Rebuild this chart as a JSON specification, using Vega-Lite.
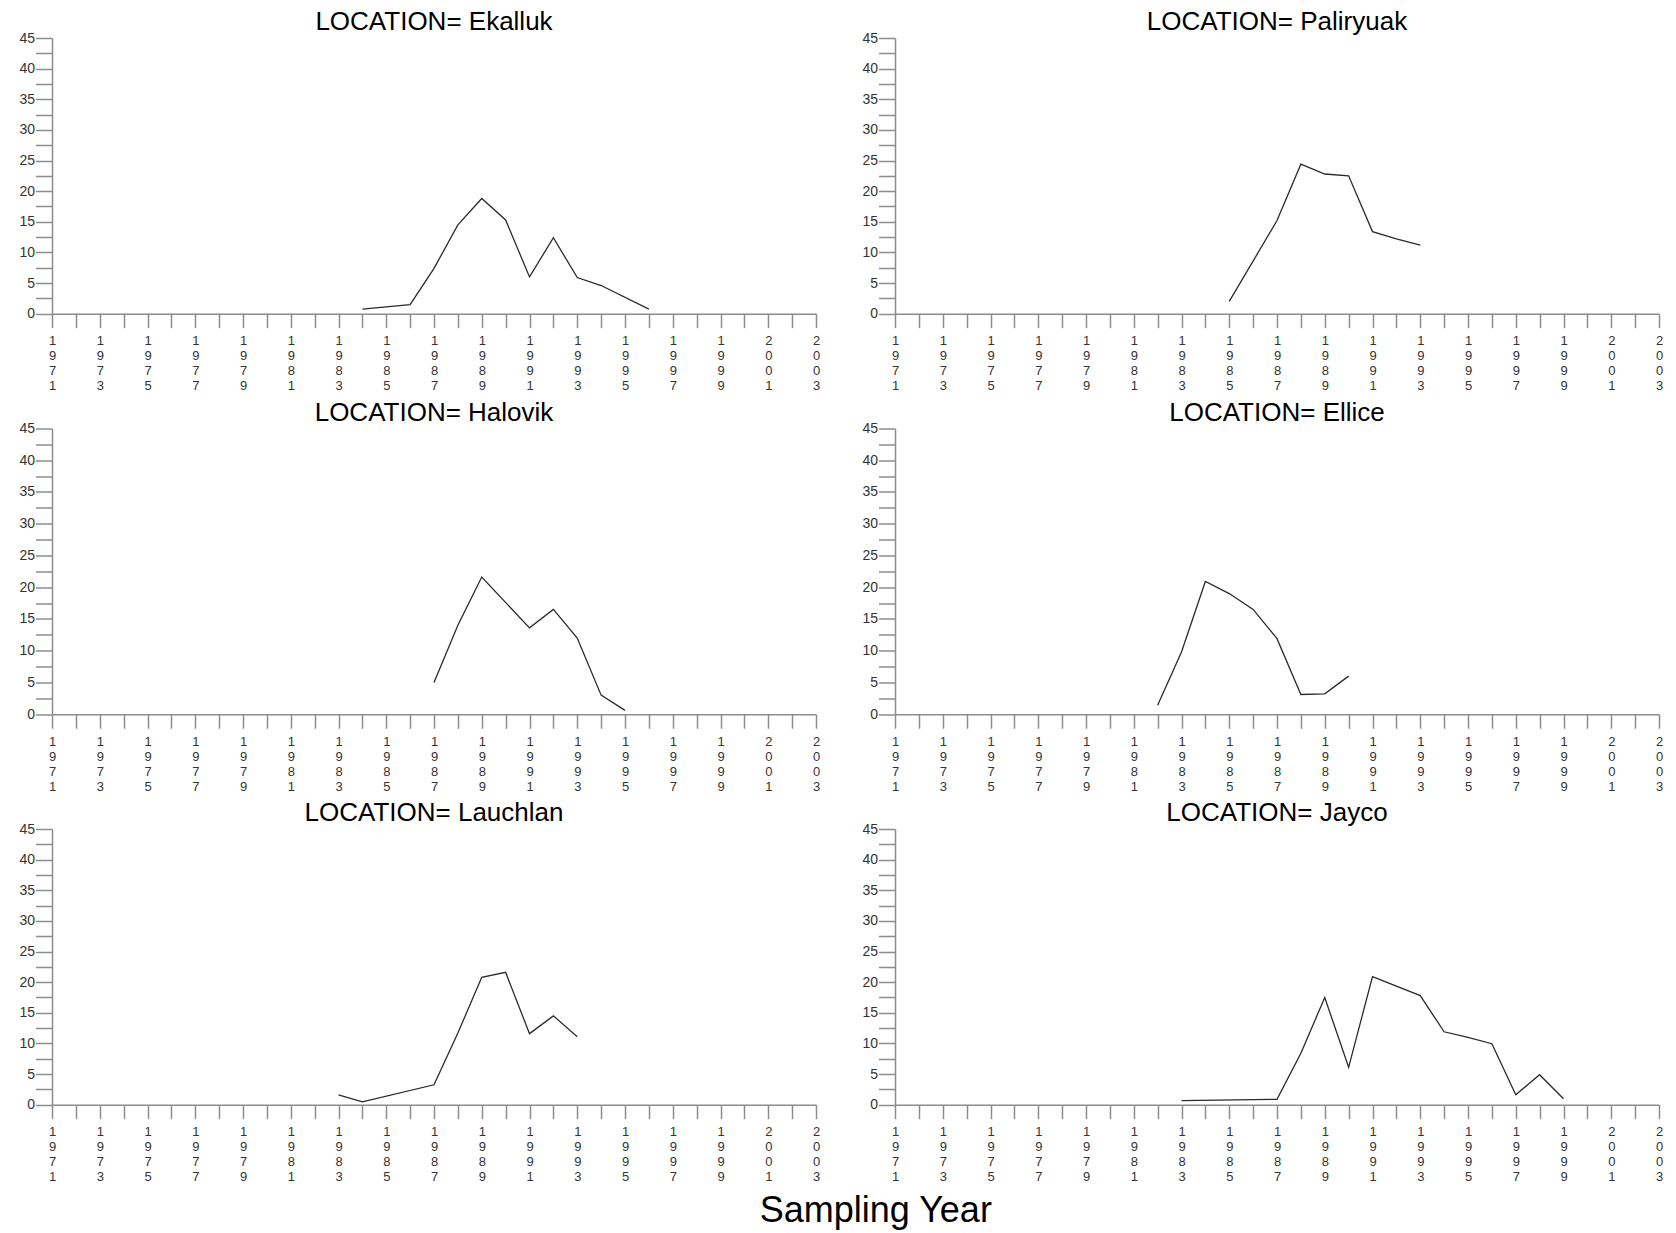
{
  "$schema": "https://vega.github.io/schema/vega-lite/v6.json",
  "padding": {"left": 18, "top": 9, "right": 5, "bottom": 5},
  "background": "white",
  "title": {"text": "Sampling Year", "orient": "bottom", "anchor": "middle", "frame": "bounds", "fontSize": 36, "font": "Liberation Sans", "fontWeight": "normal", "color": "#000", "offset": 38, "dx": 35, "baseline": "alphabetic"},
  "data": {"values": [
    {"LOCATION": "Ekalluk", "year": 1984, "value": 0.76},
    {"LOCATION": "Ekalluk", "year": 1986, "value": 1.47},
    {"LOCATION": "Ekalluk", "year": 1987, "value": 7.4},
    {"LOCATION": "Ekalluk", "year": 1988, "value": 14.5},
    {"LOCATION": "Ekalluk", "year": 1989, "value": 18.8},
    {"LOCATION": "Ekalluk", "year": 1990, "value": 15.3},
    {"LOCATION": "Ekalluk", "year": 1991, "value": 6.0},
    {"LOCATION": "Ekalluk", "year": 1992, "value": 12.4},
    {"LOCATION": "Ekalluk", "year": 1993, "value": 5.9},
    {"LOCATION": "Ekalluk", "year": 1994, "value": 4.6},
    {"LOCATION": "Ekalluk", "year": 1996, "value": 0.76},
    {"LOCATION": "Paliryuak", "year": 1985, "value": 2.0},
    {"LOCATION": "Paliryuak", "year": 1987, "value": 15.2},
    {"LOCATION": "Paliryuak", "year": 1988, "value": 24.4},
    {"LOCATION": "Paliryuak", "year": 1989, "value": 22.8},
    {"LOCATION": "Paliryuak", "year": 1990, "value": 22.5},
    {"LOCATION": "Paliryuak", "year": 1991, "value": 13.4},
    {"LOCATION": "Paliryuak", "year": 1992, "value": 12.2},
    {"LOCATION": "Paliryuak", "year": 1993, "value": 11.2},
    {"LOCATION": "Halovik", "year": 1987, "value": 5.0},
    {"LOCATION": "Halovik", "year": 1988, "value": 14.0},
    {"LOCATION": "Halovik", "year": 1989, "value": 21.6},
    {"LOCATION": "Halovik", "year": 1991, "value": 13.6},
    {"LOCATION": "Halovik", "year": 1992, "value": 16.5},
    {"LOCATION": "Halovik", "year": 1993, "value": 12.0},
    {"LOCATION": "Halovik", "year": 1994, "value": 3.0},
    {"LOCATION": "Halovik", "year": 1995, "value": 0.6},
    {"LOCATION": "Ellice", "year": 1982, "value": 1.4},
    {"LOCATION": "Ellice", "year": 1983, "value": 9.8},
    {"LOCATION": "Ellice", "year": 1984, "value": 20.9},
    {"LOCATION": "Ellice", "year": 1985, "value": 19.0},
    {"LOCATION": "Ellice", "year": 1986, "value": 16.5},
    {"LOCATION": "Ellice", "year": 1987, "value": 11.9},
    {"LOCATION": "Ellice", "year": 1988, "value": 3.1},
    {"LOCATION": "Ellice", "year": 1989, "value": 3.2},
    {"LOCATION": "Ellice", "year": 1990, "value": 6.0},
    {"LOCATION": "Lauchlan", "year": 1983, "value": 1.6},
    {"LOCATION": "Lauchlan", "year": 1984, "value": 0.45},
    {"LOCATION": "Lauchlan", "year": 1987, "value": 3.25},
    {"LOCATION": "Lauchlan", "year": 1988, "value": 11.7},
    {"LOCATION": "Lauchlan", "year": 1989, "value": 20.8},
    {"LOCATION": "Lauchlan", "year": 1990, "value": 21.6},
    {"LOCATION": "Lauchlan", "year": 1991, "value": 11.6},
    {"LOCATION": "Lauchlan", "year": 1992, "value": 14.5},
    {"LOCATION": "Lauchlan", "year": 1993, "value": 11.1},
    {"LOCATION": "Jayco", "year": 1983, "value": 0.65},
    {"LOCATION": "Jayco", "year": 1987, "value": 0.87},
    {"LOCATION": "Jayco", "year": 1988, "value": 8.4},
    {"LOCATION": "Jayco", "year": 1989, "value": 17.5},
    {"LOCATION": "Jayco", "year": 1990, "value": 6.1},
    {"LOCATION": "Jayco", "year": 1991, "value": 20.9},
    {"LOCATION": "Jayco", "year": 1993, "value": 17.8},
    {"LOCATION": "Jayco", "year": 1994, "value": 11.9},
    {"LOCATION": "Jayco", "year": 1995, "value": 11.0},
    {"LOCATION": "Jayco", "year": 1996, "value": 9.96},
    {"LOCATION": "Jayco", "year": 1997, "value": 1.63},
    {"LOCATION": "Jayco", "year": 1998, "value": 4.9},
    {"LOCATION": "Jayco", "year": 1999, "value": 0.98}
  ]},
  "columns": 2,
  "align": "each",
  "bounds": "flush",
  "spacing": {"row": 114.5, "column": 79},
  "concat": [
    {"width": 764, "height": 275.7, "title": {"text": "LOCATION= Ekalluk", "frame": "group"},
     "transform": [{"filter": "datum.LOCATION == 'Ekalluk'"}],
     "mark": {"type": "line", "color": "#2a2a2a", "strokeWidth": 1.3},
     "encoding": {
       "x": {"field": "year", "type": "quantitative", "scale": {"domain": [1971, 2003], "nice": false, "zero": false},
             "axis": {"values": [1971,1972,1973,1974,1975,1976,1977,1978,1979,1980,1981,1982,1983,1984,1985,1986,1987,1988,1989,1990,1991,1992,1993,1994,1995,1996,1997,1998,1999,2000,2001,2002,2003], "format": "d", "labelExpr": "datum.value % 2 == 1 ? split(datum.label, '') : ''", "title": null}},
       "y": {"field": "value", "type": "quantitative", "scale": {"domain": [0, 45], "nice": false},
             "axis": {"values": [0,2.5,5,7.5,10,12.5,15,17.5,20,22.5,25,27.5,30,32.5,35,37.5,40,42.5,45], "labelExpr": "datum.value % 5 == 0 ? datum.label : ''", "title": null}}
     }},
    {"width": 764, "height": 275.7, "title": {"text": "LOCATION= Paliryuak", "frame": "group"},
     "transform": [{"filter": "datum.LOCATION == 'Paliryuak'"}],
     "mark": {"type": "line", "color": "#2a2a2a", "strokeWidth": 1.3},
     "encoding": {
       "x": {"field": "year", "type": "quantitative", "scale": {"domain": [1971, 2003], "nice": false, "zero": false},
             "axis": {"values": [1971,1972,1973,1974,1975,1976,1977,1978,1979,1980,1981,1982,1983,1984,1985,1986,1987,1988,1989,1990,1991,1992,1993,1994,1995,1996,1997,1998,1999,2000,2001,2002,2003], "format": "d", "labelExpr": "datum.value % 2 == 1 ? split(datum.label, '') : ''", "title": null}},
       "y": {"field": "value", "type": "quantitative", "scale": {"domain": [0, 45], "nice": false},
             "axis": {"values": [0,2.5,5,7.5,10,12.5,15,17.5,20,22.5,25,27.5,30,32.5,35,37.5,40,42.5,45], "labelExpr": "datum.value % 5 == 0 ? datum.label : ''", "title": null}}
     }},
    {"width": 764, "height": 285.7, "title": {"text": "LOCATION= Halovik", "frame": "group"},
     "transform": [{"filter": "datum.LOCATION == 'Halovik'"}],
     "mark": {"type": "line", "color": "#2a2a2a", "strokeWidth": 1.3},
     "encoding": {
       "x": {"field": "year", "type": "quantitative", "scale": {"domain": [1971, 2003], "nice": false, "zero": false},
             "axis": {"values": [1971,1972,1973,1974,1975,1976,1977,1978,1979,1980,1981,1982,1983,1984,1985,1986,1987,1988,1989,1990,1991,1992,1993,1994,1995,1996,1997,1998,1999,2000,2001,2002,2003], "format": "d", "labelExpr": "datum.value % 2 == 1 ? split(datum.label, '') : ''", "title": null}},
       "y": {"field": "value", "type": "quantitative", "scale": {"domain": [0, 45], "nice": false},
             "axis": {"values": [0,2.5,5,7.5,10,12.5,15,17.5,20,22.5,25,27.5,30,32.5,35,37.5,40,42.5,45], "labelExpr": "datum.value % 5 == 0 ? datum.label : ''", "title": null}}
     }},
    {"width": 764, "height": 285.7, "title": {"text": "LOCATION= Ellice", "frame": "group"},
     "transform": [{"filter": "datum.LOCATION == 'Ellice'"}],
     "mark": {"type": "line", "color": "#2a2a2a", "strokeWidth": 1.3},
     "encoding": {
       "x": {"field": "year", "type": "quantitative", "scale": {"domain": [1971, 2003], "nice": false, "zero": false},
             "axis": {"values": [1971,1972,1973,1974,1975,1976,1977,1978,1979,1980,1981,1982,1983,1984,1985,1986,1987,1988,1989,1990,1991,1992,1993,1994,1995,1996,1997,1998,1999,2000,2001,2002,2003], "format": "d", "labelExpr": "datum.value % 2 == 1 ? split(datum.label, '') : ''", "title": null}},
       "y": {"field": "value", "type": "quantitative", "scale": {"domain": [0, 45], "nice": false},
             "axis": {"values": [0,2.5,5,7.5,10,12.5,15,17.5,20,22.5,25,27.5,30,32.5,35,37.5,40,42.5,45], "labelExpr": "datum.value % 5 == 0 ? datum.label : ''", "title": null}}
     }},
    {"width": 764, "height": 275.7, "title": {"text": "LOCATION= Lauchlan", "frame": "group"},
     "transform": [{"filter": "datum.LOCATION == 'Lauchlan'"}],
     "mark": {"type": "line", "color": "#2a2a2a", "strokeWidth": 1.3},
     "encoding": {
       "x": {"field": "year", "type": "quantitative", "scale": {"domain": [1971, 2003], "nice": false, "zero": false},
             "axis": {"values": [1971,1972,1973,1974,1975,1976,1977,1978,1979,1980,1981,1982,1983,1984,1985,1986,1987,1988,1989,1990,1991,1992,1993,1994,1995,1996,1997,1998,1999,2000,2001,2002,2003], "format": "d", "labelExpr": "datum.value % 2 == 1 ? split(datum.label, '') : ''", "title": null}},
       "y": {"field": "value", "type": "quantitative", "scale": {"domain": [0, 45], "nice": false},
             "axis": {"values": [0,2.5,5,7.5,10,12.5,15,17.5,20,22.5,25,27.5,30,32.5,35,37.5,40,42.5,45], "labelExpr": "datum.value % 5 == 0 ? datum.label : ''", "title": null}}
     }},
    {"width": 764, "height": 275.7, "title": {"text": "LOCATION= Jayco", "frame": "group"},
     "transform": [{"filter": "datum.LOCATION == 'Jayco'"}],
     "mark": {"type": "line", "color": "#2a2a2a", "strokeWidth": 1.3},
     "encoding": {
       "x": {"field": "year", "type": "quantitative", "scale": {"domain": [1971, 2003], "nice": false, "zero": false},
             "axis": {"values": [1971,1972,1973,1974,1975,1976,1977,1978,1979,1980,1981,1982,1983,1984,1985,1986,1987,1988,1989,1990,1991,1992,1993,1994,1995,1996,1997,1998,1999,2000,2001,2002,2003], "format": "d", "labelExpr": "datum.value % 2 == 1 ? split(datum.label, '') : ''", "title": null}},
       "y": {"field": "value", "type": "quantitative", "scale": {"domain": [0, 45], "nice": false},
             "axis": {"values": [0,2.5,5,7.5,10,12.5,15,17.5,20,22.5,25,27.5,30,32.5,35,37.5,40,42.5,45], "labelExpr": "datum.value % 5 == 0 ? datum.label : ''", "title": null}}
     }}
  ],
  "config": {
    "view": {"stroke": null},
    "font": "Liberation Sans",
    "title": {"fontSize": 26, "fontWeight": "normal", "color": "#000", "anchor": "middle", "baseline": "alphabetic", "offset": -4},
    "axis": {"grid": false, "domainColor": "#8c8c8c", "domainWidth": 1.5, "tickColor": "#8c8c8c", "tickWidth": 1.5, "labelColor": "#333", "labelFont": "Liberation Sans", "labelFontSize": 14, "labelOverlap": false, "labelFlush": false},
    "axisX": {"tickSize": 14, "labelPadding": 7, "labelLineHeight": 15, "labelFontSize": 13, "labelBaseline": "top", "labelAngle": 0},
    "axisY": {"tickSize": 16.5, "labelPadding": 1, "labelBaseline": "middle"}
  }
}
